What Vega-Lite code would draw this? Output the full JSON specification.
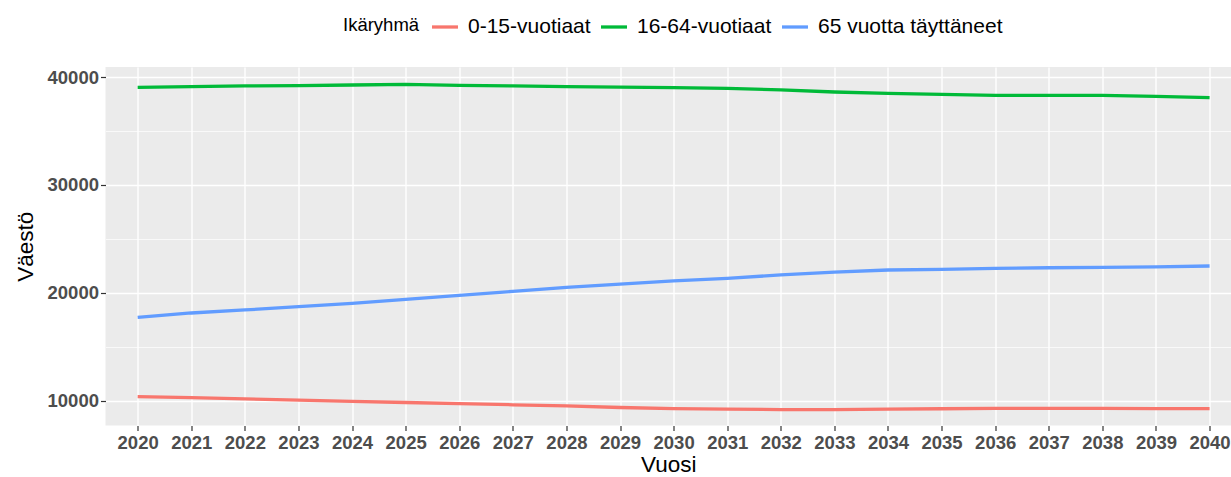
{
  "$schema": "https://vega.github.io/schema/vega-lite/v6.json",
  "width": 1125.5,
  "height": 358.6,
  "autosize": {"type": "none"},
  "padding": {"left": 105.5, "top": 67, "right": 0, "bottom": 51.4},
  "background": "white",
  "config": {
    "view": {"fill": "#EBEBEB", "stroke": null},
    "font": "Liberation Sans"
  },
  "data": {
    "values": [
      {"vuosi": 2020, "ryhma": "0-15-vuotiaat", "vaesto": 10400},
      {"vuosi": 2021, "ryhma": "0-15-vuotiaat", "vaesto": 10310},
      {"vuosi": 2022, "ryhma": "0-15-vuotiaat", "vaesto": 10200},
      {"vuosi": 2023, "ryhma": "0-15-vuotiaat", "vaesto": 10080},
      {"vuosi": 2024, "ryhma": "0-15-vuotiaat", "vaesto": 9970},
      {"vuosi": 2025, "ryhma": "0-15-vuotiaat", "vaesto": 9860},
      {"vuosi": 2026, "ryhma": "0-15-vuotiaat", "vaesto": 9760},
      {"vuosi": 2027, "ryhma": "0-15-vuotiaat", "vaesto": 9650},
      {"vuosi": 2028, "ryhma": "0-15-vuotiaat", "vaesto": 9550},
      {"vuosi": 2029, "ryhma": "0-15-vuotiaat", "vaesto": 9400},
      {"vuosi": 2030, "ryhma": "0-15-vuotiaat", "vaesto": 9300},
      {"vuosi": 2031, "ryhma": "0-15-vuotiaat", "vaesto": 9250},
      {"vuosi": 2032, "ryhma": "0-15-vuotiaat", "vaesto": 9200},
      {"vuosi": 2033, "ryhma": "0-15-vuotiaat", "vaesto": 9200},
      {"vuosi": 2034, "ryhma": "0-15-vuotiaat", "vaesto": 9250},
      {"vuosi": 2035, "ryhma": "0-15-vuotiaat", "vaesto": 9280},
      {"vuosi": 2036, "ryhma": "0-15-vuotiaat", "vaesto": 9310},
      {"vuosi": 2037, "ryhma": "0-15-vuotiaat", "vaesto": 9310},
      {"vuosi": 2038, "ryhma": "0-15-vuotiaat", "vaesto": 9310},
      {"vuosi": 2039, "ryhma": "0-15-vuotiaat", "vaesto": 9300},
      {"vuosi": 2040, "ryhma": "0-15-vuotiaat", "vaesto": 9290},
      {"vuosi": 2020, "ryhma": "16-64-vuotiaat", "vaesto": 39040},
      {"vuosi": 2021, "ryhma": "16-64-vuotiaat", "vaesto": 39100},
      {"vuosi": 2022, "ryhma": "16-64-vuotiaat", "vaesto": 39170},
      {"vuosi": 2023, "ryhma": "16-64-vuotiaat", "vaesto": 39210},
      {"vuosi": 2024, "ryhma": "16-64-vuotiaat", "vaesto": 39260},
      {"vuosi": 2025, "ryhma": "16-64-vuotiaat", "vaesto": 39320},
      {"vuosi": 2026, "ryhma": "16-64-vuotiaat", "vaesto": 39230},
      {"vuosi": 2027, "ryhma": "16-64-vuotiaat", "vaesto": 39170},
      {"vuosi": 2028, "ryhma": "16-64-vuotiaat", "vaesto": 39100},
      {"vuosi": 2029, "ryhma": "16-64-vuotiaat", "vaesto": 39070},
      {"vuosi": 2030, "ryhma": "16-64-vuotiaat", "vaesto": 39010},
      {"vuosi": 2031, "ryhma": "16-64-vuotiaat", "vaesto": 38950},
      {"vuosi": 2032, "ryhma": "16-64-vuotiaat", "vaesto": 38800},
      {"vuosi": 2033, "ryhma": "16-64-vuotiaat", "vaesto": 38610},
      {"vuosi": 2034, "ryhma": "16-64-vuotiaat", "vaesto": 38490},
      {"vuosi": 2035, "ryhma": "16-64-vuotiaat", "vaesto": 38400},
      {"vuosi": 2036, "ryhma": "16-64-vuotiaat", "vaesto": 38300},
      {"vuosi": 2037, "ryhma": "16-64-vuotiaat", "vaesto": 38300},
      {"vuosi": 2038, "ryhma": "16-64-vuotiaat", "vaesto": 38300},
      {"vuosi": 2039, "ryhma": "16-64-vuotiaat", "vaesto": 38210},
      {"vuosi": 2040, "ryhma": "16-64-vuotiaat", "vaesto": 38090},
      {"vuosi": 2020, "ryhma": "65 vuotta täyttäneet", "vaesto": 17750},
      {"vuosi": 2021, "ryhma": "65 vuotta täyttäneet", "vaesto": 18150},
      {"vuosi": 2022, "ryhma": "65 vuotta täyttäneet", "vaesto": 18430},
      {"vuosi": 2023, "ryhma": "65 vuotta täyttäneet", "vaesto": 18730},
      {"vuosi": 2024, "ryhma": "65 vuotta täyttäneet", "vaesto": 19040},
      {"vuosi": 2025, "ryhma": "65 vuotta täyttäneet", "vaesto": 19410},
      {"vuosi": 2026, "ryhma": "65 vuotta täyttäneet", "vaesto": 19780},
      {"vuosi": 2027, "ryhma": "65 vuotta täyttäneet", "vaesto": 20150},
      {"vuosi": 2028, "ryhma": "65 vuotta täyttäneet", "vaesto": 20520},
      {"vuosi": 2029, "ryhma": "65 vuotta täyttäneet", "vaesto": 20830},
      {"vuosi": 2030, "ryhma": "65 vuotta täyttäneet", "vaesto": 21130},
      {"vuosi": 2031, "ryhma": "65 vuotta täyttäneet", "vaesto": 21360},
      {"vuosi": 2032, "ryhma": "65 vuotta täyttäneet", "vaesto": 21670},
      {"vuosi": 2033, "ryhma": "65 vuotta täyttäneet", "vaesto": 21940},
      {"vuosi": 2034, "ryhma": "65 vuotta täyttäneet", "vaesto": 22130},
      {"vuosi": 2035, "ryhma": "65 vuotta täyttäneet", "vaesto": 22190},
      {"vuosi": 2036, "ryhma": "65 vuotta täyttäneet", "vaesto": 22280},
      {"vuosi": 2037, "ryhma": "65 vuotta täyttäneet", "vaesto": 22340},
      {"vuosi": 2038, "ryhma": "65 vuotta täyttäneet", "vaesto": 22380},
      {"vuosi": 2039, "ryhma": "65 vuotta täyttäneet", "vaesto": 22410},
      {"vuosi": 2040, "ryhma": "65 vuotta täyttäneet", "vaesto": 22500}
    ]
  },
  "encoding": {
    "x": {
      "field": "vuosi",
      "type": "quantitative",
      "scale": {"domain": [2019.4, 2040.4], "nice": false, "zero": false},
      "axis": {
        "title": "Vuosi",
        "values": [2020, 2021, 2022, 2023, 2024, 2025, 2026, 2027, 2028, 2029, 2030, 2031, 2032, 2033, 2034, 2035, 2036, 2037, 2038, 2039, 2040],
        "format": "d",
        "domain": false,
        "grid": true,
        "gridColor": "white",
        "gridWidth": 1.4,
        "tickColor": "#333333",
        "tickSize": 5,
        "tickWidth": 1.2,
        "labelFont": "Liberation Sans",
        "labelFontWeight": "bold",
        "labelFontSize": 18.5,
        "labelColor": "#4D4D4D",
        "labelPadding": 3,
        "labelFlush": false,
        "labelOverlap": false,
        "titleFont": "Liberation Sans",
        "titleFontWeight": "normal",
        "titleFontSize": 22.5,
        "titleColor": "black",
        "titlePadding": 1
      }
    },
    "y": {
      "field": "vaesto",
      "type": "quantitative",
      "scale": {"domain": [7722, 40926], "nice": false, "zero": false}
    }
  },
  "layer": [
    {
      "mark": {"type": "line", "opacity": 0},
      "encoding": {
        "y": {
          "field": "vaesto",
          "type": "quantitative",
          "axis": {
            "orient": "right",
            "title": null,
            "values": [15000, 25000, 35000],
            "labels": false,
            "ticks": false,
            "domain": false,
            "grid": true,
            "gridColor": "white",
            "gridWidth": 0.7
          }
        },
        "detail": {"field": "ryhma"}
      }
    },
    {
      "mark": {"type": "line", "strokeWidth": 3.3},
      "encoding": {
        "y": {
          "field": "vaesto",
          "type": "quantitative",
          "axis": {
            "title": "Väestö",
            "values": [10000, 20000, 30000, 40000],
            "format": "d",
            "domain": false,
            "grid": true,
            "gridColor": "white",
            "gridWidth": 1.4,
            "tickColor": "#333333",
            "tickSize": 5,
            "tickWidth": 1.2,
            "labelFont": "Liberation Sans",
            "labelFontWeight": "bold",
            "labelFontSize": 18.5,
            "labelColor": "#4D4D4D",
            "labelPadding": 2,
            "titleFont": "Liberation Sans",
            "titleFontWeight": "normal",
            "titleFontSize": 22.5,
            "titleColor": "black",
            "titlePadding": 10
          }
        },
        "color": {
          "field": "ryhma",
          "type": "nominal",
          "scale": {
            "domain": ["0-15-vuotiaat", "16-64-vuotiaat", "65 vuotta täyttäneet"],
            "range": ["#F8766D", "#00BA38", "#619CFF"]
          },
          "legend": {
            "title": "Ikäryhmä",
            "orient": "none",
            "legendX": 237.5,
            "legendY": -55,
            "direction": "horizontal",
            "titleOrient": "left",
            "titleAnchor": "middle",
            "titleBaseline": "middle",
            "titleFont": "Liberation Sans",
            "titleFontWeight": "normal",
            "titleFontSize": 18.5,
            "titleColor": "black",
            "titlePadding": 10,
            "labelFont": "Liberation Sans",
            "labelFontSize": 21,
            "labelColor": "black",
            "labelOffset": 8,
            "labelLimit": 500,
            "symbolType": "stroke",
            "symbolSize": 676,
            "symbolStrokeWidth": 3.3,
            "columnPadding": 3
          }
        }
      }
    }
  ],
  "resolve": {"axis": {"y": "independent"}}
}
